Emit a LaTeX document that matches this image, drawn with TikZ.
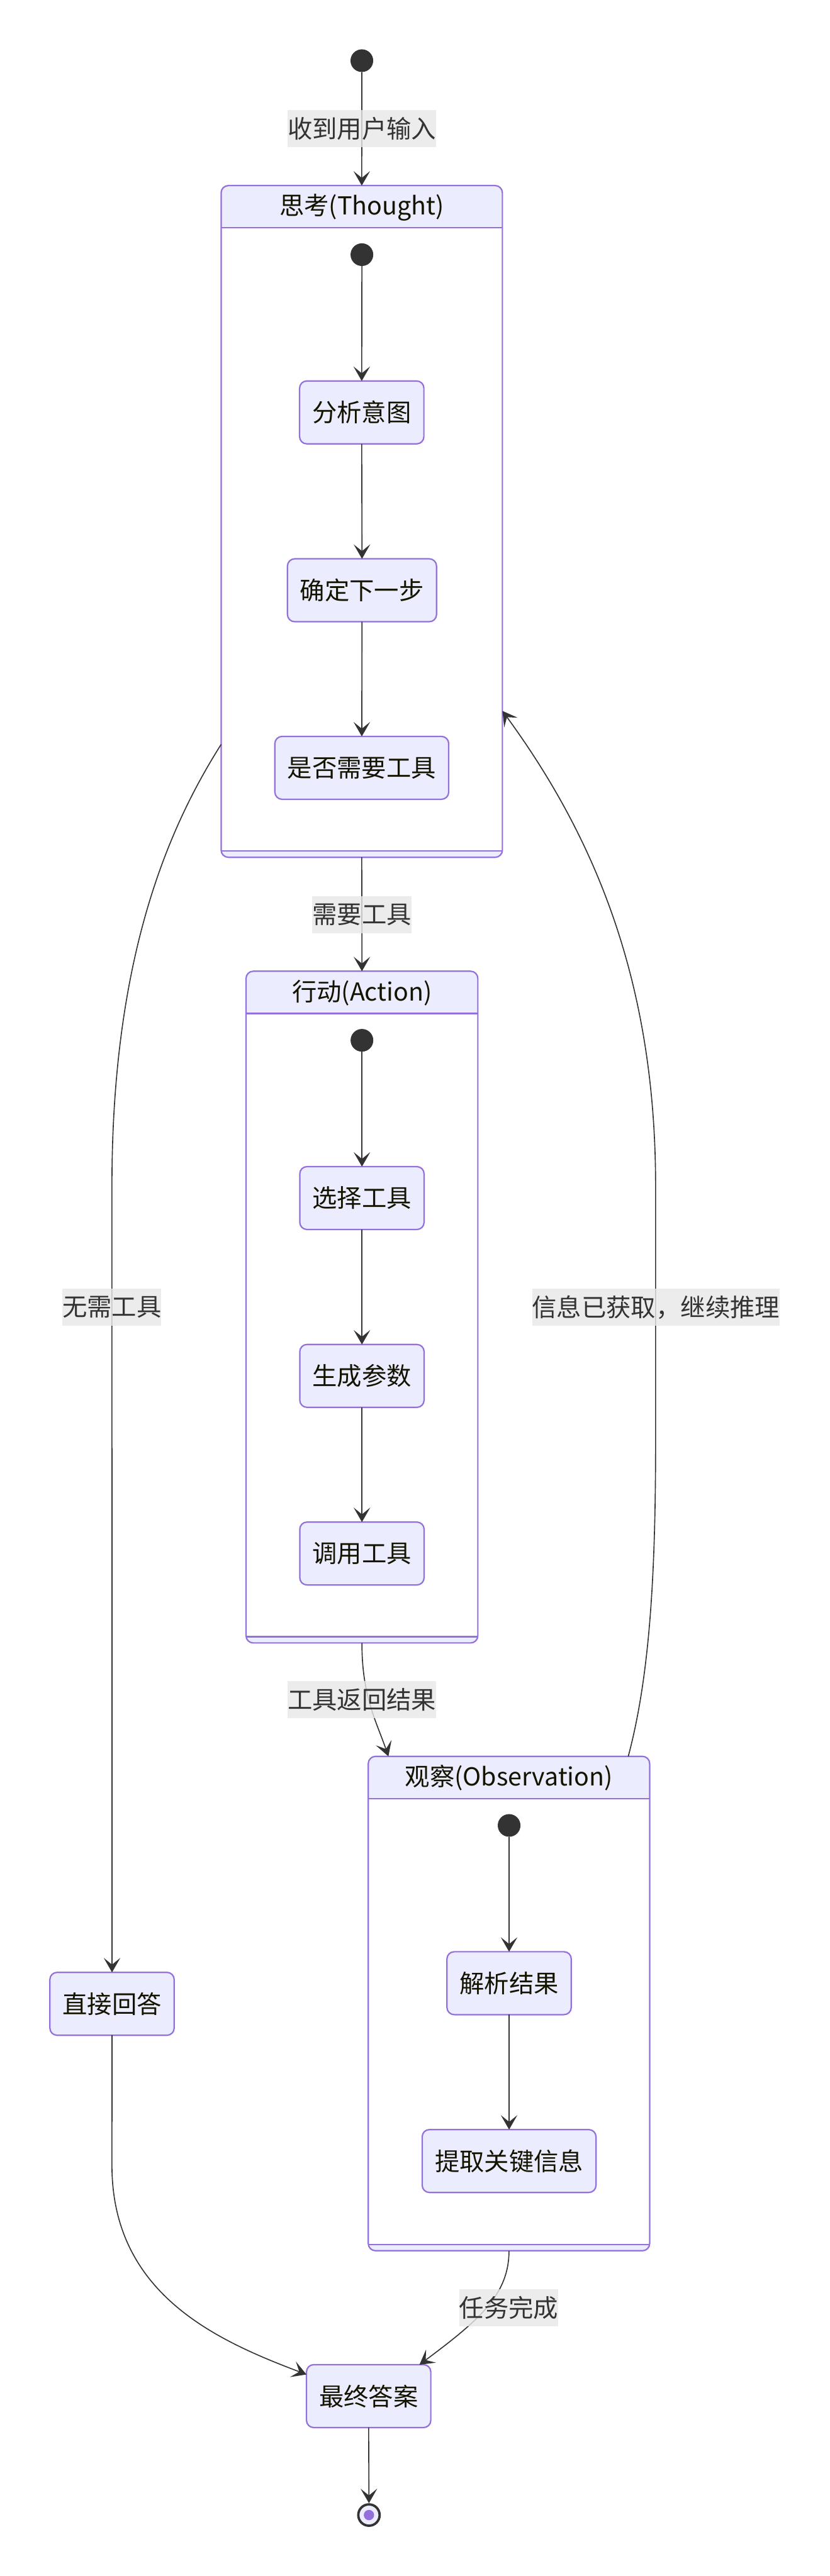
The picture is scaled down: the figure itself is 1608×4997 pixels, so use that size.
\documentclass[tikz,border=0pt]{standalone}
\usepackage{fontspec}
\setmainfont{Noto Sans CJK SC}
\usetikzlibrary{arrows.meta,calc}
\definecolor{nodeF}{HTML}{ECECFF}
\definecolor{purpleC}{HTML}{9370DB}
\definecolor{lineC}{HTML}{333333}
\definecolor{labelBG}{HTML}{E8E8E8}
\definecolor{nodeT}{HTML}{131300}
\tikzset{
  every node/.style={font=\fontsize{48}{58}\selectfont},
  statebox/.style={draw=purpleC, fill=nodeF, line width=2.7pt, rounded corners=14pt,
    minimum height=122pt, inner xsep=24.5pt, inner ysep=0pt, outer sep=0pt, text=nodeT},
  startdot/.style={circle, fill=lineC, draw=none, minimum size=44pt, inner sep=0pt, outer sep=0pt},
  enddot/.style={circle, fill=nodeF, draw=lineC, line width=4.6pt, minimum size=41.4pt, inner sep=0pt, outer sep=2.3pt},
  compframe/.style={draw=none, inner sep=0pt, outer sep=0pt, rectangle},
  compline/.style={draw=purpleC, line width=2.7pt},
  edge/.style={draw=lineC, line width=2pt, -{Stealth[length=28pt,width=32pt,inset=13pt]}},
  elabel/.style={fill=labelBG, fill opacity=0.8, text opacity=1, text=lineC, inner xsep=0pt, inner ysep=0pt,
    minimum height=72pt, outer sep=0pt}
}
\newcommand\mkcomposite[6]{%
  \node[compframe, minimum width=#4pt, minimum height=#5pt, anchor=north] (#1) at (#2,#3) {};
  \fill[nodeF, rounded corners=14pt] (#1.north west) rectangle (#1.south east);
  \fill[white] ([yshift=-82pt]#1.north west) rectangle ([yshift=12pt]#1.south east);
  \draw[compline, rounded corners=14pt] (#1.north west) rectangle (#1.south east);
  \draw[compline] ([yshift=-82pt]#1.north west) -- ([yshift=-82pt]#1.north east);
  \draw[compline] ([yshift=12pt]#1.south west) -- ([yshift=12pt]#1.south east);
  \node[text=nodeT, inner sep=0pt] (#1title) at ([yshift=-42pt]#1.north) {#6};
}
\begin{document}
\begin{tikzpicture}[x=1pt,y=-1pt]
\fill[white] (0,0) rectangle (1608,4997);
\useasboundingbox (0,0) rectangle (1608,4997);

% composite states
\mkcomposite{T}{701.35}{360}{545.3}{1303}{思考(Thought)}
\mkcomposite{A}{701.7}{1884}{449.4}{1303}{行动(Action)}
\mkcomposite{O}{986.75}{3407}{545.5}{959}{观察(Observation)}

% start / end
\node[startdot] (s0) at (701.5,117.7) {};
\node[startdot] (s1) at (701.6,494) {};
\node[startdot] (s2) at (701.7,2018) {};
\node[startdot] (s3) at (987,3541) {};
\node[enddot] (e) at (715.3,4878.7) {};
\fill[purpleC] (e.center) circle (10pt);

% states
\node[statebox] (a1) at (701.3,800) {分析意图};
\node[statebox] (a2) at (701.8,1145) {确定下一步};
\node[statebox] (a3) at (701.4,1489.5) {是否需要工具};
\node[statebox] (b1) at (701.7,2324) {选择工具};
\node[statebox] (b2) at (701.7,2669) {生成参数};
\node[statebox] (b3) at (701.7,3013.5) {调用工具};
\node[statebox] (c1) at (987,3847) {解析结果};
\node[statebox] (c2) at (987,4192) {提取关键信息};
\node[statebox] (d) at (217.2,3887) {直接回答};
\node[statebox] (f) at (714.7,4648) {最终答案};

% edges
\draw[edge] (s0.south) -- (T.north);
\draw[edge] (s1.south) -- (a1.north);
\draw[edge] (a1.south) -- (a2.north);
\draw[edge] (a2.south) -- (a3.north);
\draw[edge] (T.south) -- (A.north);
\draw[edge] (s2.south) -- (b1.north);
\draw[edge] (b1.south) -- (b2.north);
\draw[edge] (b2.south) -- (b3.north);
\draw[edge] (A.south) .. controls (701.4,3290) and (730,3340) .. ([xshift=39pt]O.north west);
\draw[edge] (s3.south) -- (c1.north);
\draw[edge] (c1.south) -- (c2.north);
\draw[edge] ([xshift=-41.5pt]O.north east) .. controls (1260,3250) and (1271,3050) .. (1271,2800)
  -- (1271,2300) .. controls (1271,1900) and (1150,1620) .. ([yshift=-367.5pt]T.east);
\draw[edge] ([yshift=-432.5pt]T.west) .. controls (330,1600) and (217,1850) .. (217,2300) -- (d.north);
\draw[edge] (d.south) -- (217,4200) .. controls (217,4450) and (420,4540) .. ([yshift=-19pt]f.north west);
\draw[edge] (O.south) .. controls (987,4450) and (930,4500) .. ([xshift=-22pt]f.north east);
\draw[edge] (f.south) -- (e.north);

% edge labels
\node[elabel] (L1) at (701.7,250) {收到用户输入};
\node[elabel] (L2) at (701.7,1774) {需要工具};
\node[elabel] (L3) at (701.7,3297.5) {工具返回结果};
\node[elabel] (L4) at (1271.6,2536) {信息已获取，继续推理};
\node[elabel] (L5) at (216.8,2536) {无需工具};
\node[elabel] (L6) at (986.5,4477) {任务完成};
\end{tikzpicture}
\end{document}
